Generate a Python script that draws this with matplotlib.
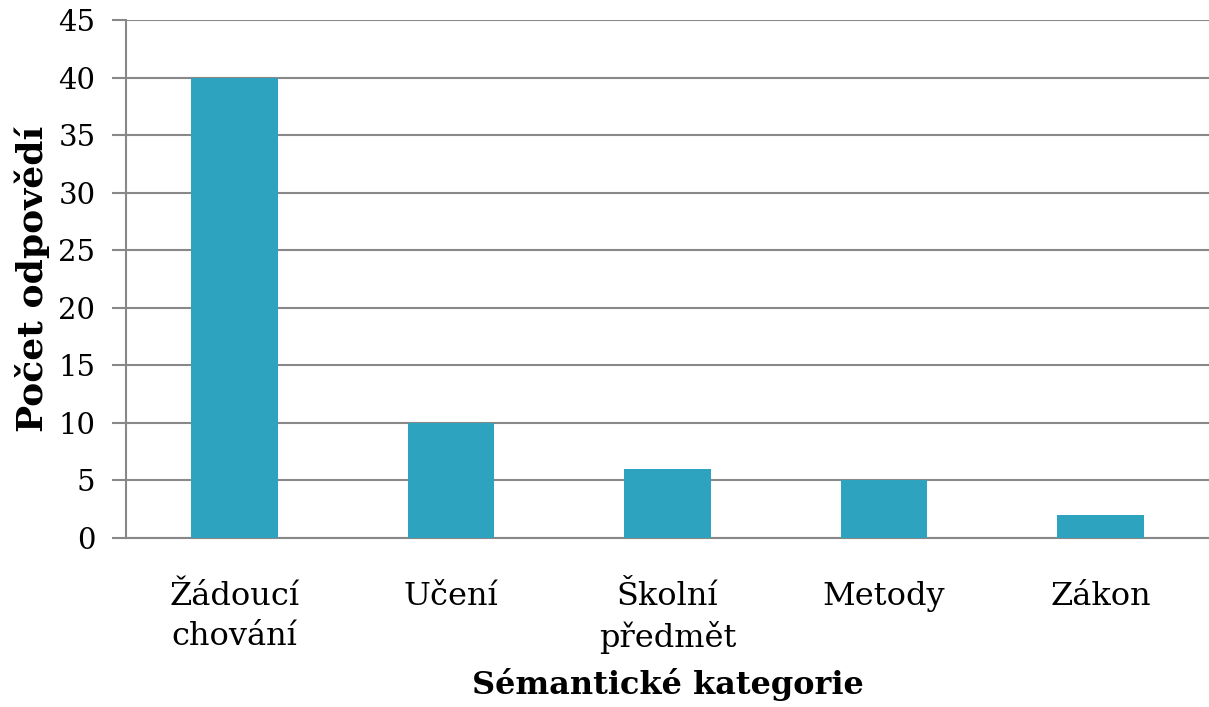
import matplotlib
matplotlib.use("Agg")
import matplotlib.pyplot as plt

categories = ["Žádoucí\nchování", "Učení", "Školní\npředmět", "Metody", "Zákon"]
values = [40, 10, 6, 5, 2]
yticks = [0, 5, 10, 15, 20, 25, 30, 35, 40, 45]

plt.rcParams['font.family'] = ['DejaVu Serif']

fig = plt.figure(figsize=(12.09, 7.07), dpi=100)
ax = fig.add_axes([126/1209, 169/707, 1083/1209, 518/707])

x = range(len(categories))
ax.bar(x, values, width=0.4, color="#2ea3bf", zorder=3)
ax.set_xlim(-0.5, len(categories) - 0.5)
ax.set_ylim(0, 45)
ax.set_yticks(yticks)
ax.set_xticks(list(x))
ax.set_xticklabels(categories, fontsize=23, linespacing=1.36)
ax.tick_params(axis='y', labelsize=21, length=10, color="#888888", width=1.5, pad=12)
ax.tick_params(axis='x', length=0, pad=31)
ax.grid(axis='y', color="#888888", linewidth=1.5, zorder=0)
for s in ['top', 'right']:
    ax.spines[s].set_visible(False)
ax.spines['left'].set_color("#888888")
ax.spines['left'].set_linewidth(1.5)
ax.spines['bottom'].set_color("#888888")
ax.spines['bottom'].set_linewidth(1.5)

ax.set_ylabel("Počet odpovědí", fontsize=26, fontweight='bold', labelpad=6)
ax.set_xlabel("Sémantické kategorie", fontsize=23, fontweight='bold', labelpad=10)

fig.savefig("out.png", dpi=100)
